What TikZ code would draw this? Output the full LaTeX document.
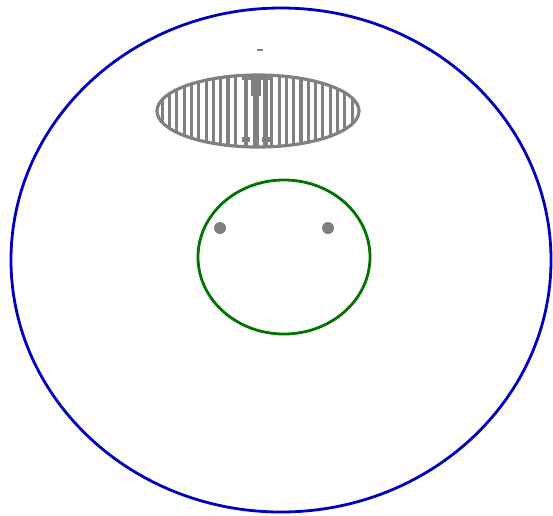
\documentclass[tikz,border=0pt]{standalone}
\begin{document}
\begin{tikzpicture}[x=1pt,y=-1pt,
  outer/.style={draw=blue!75!black,line width=2.8pt},
  face/.style={draw=green!45!black,line width=2.8pt},
  stripe/.style={draw=gray,line width=3.1pt},
  grayrim/.style={draw=gray,line width=3.2pt},
  dot/.style={fill=gray,draw=none}]
\useasboundingbox (0,0) rectangle (553,515);
\draw[outer] (281,260) ellipse [x radius=270, y radius=252];
% striped ellipse
\begin{scope}
  \clip (258,111) ellipse [x radius=101, y radius=36];
  \foreach \k in {0,...,29} {
    \ifnum\k=12\else\ifnum\k=13\else\ifnum\k=14\else
    \draw[stripe] ({155+7.3*\k},70) -- ({155+7.3*\k},150);
    \fi\fi\fi
  }
  % central pillar
  \fill[gray] (242,74) rectangle (270,80);
  \fill[gray] (244,78) rectangle (248,150);
  \fill[gray] (264,78) rectangle (268,150);
  \fill[gray] (251,78) rectangle (261,96);
  \fill[gray] (253,94) rectangle (259,150);
  \fill[gray] (242,137) rectangle (250,142);
  \fill[gray] (262,137) rectangle (270,142);
\end{scope}
\draw[grayrim] (258,111) ellipse [x radius=101, y radius=36];
\fill[gray] (257,49) rectangle (263,51);
% green face
\draw[face] (284,257) ellipse [x radius=86, y radius=77];
\fill[dot] (220,228) circle (6);
\fill[dot] (328,228) circle (6);
\end{tikzpicture}
\end{document}
